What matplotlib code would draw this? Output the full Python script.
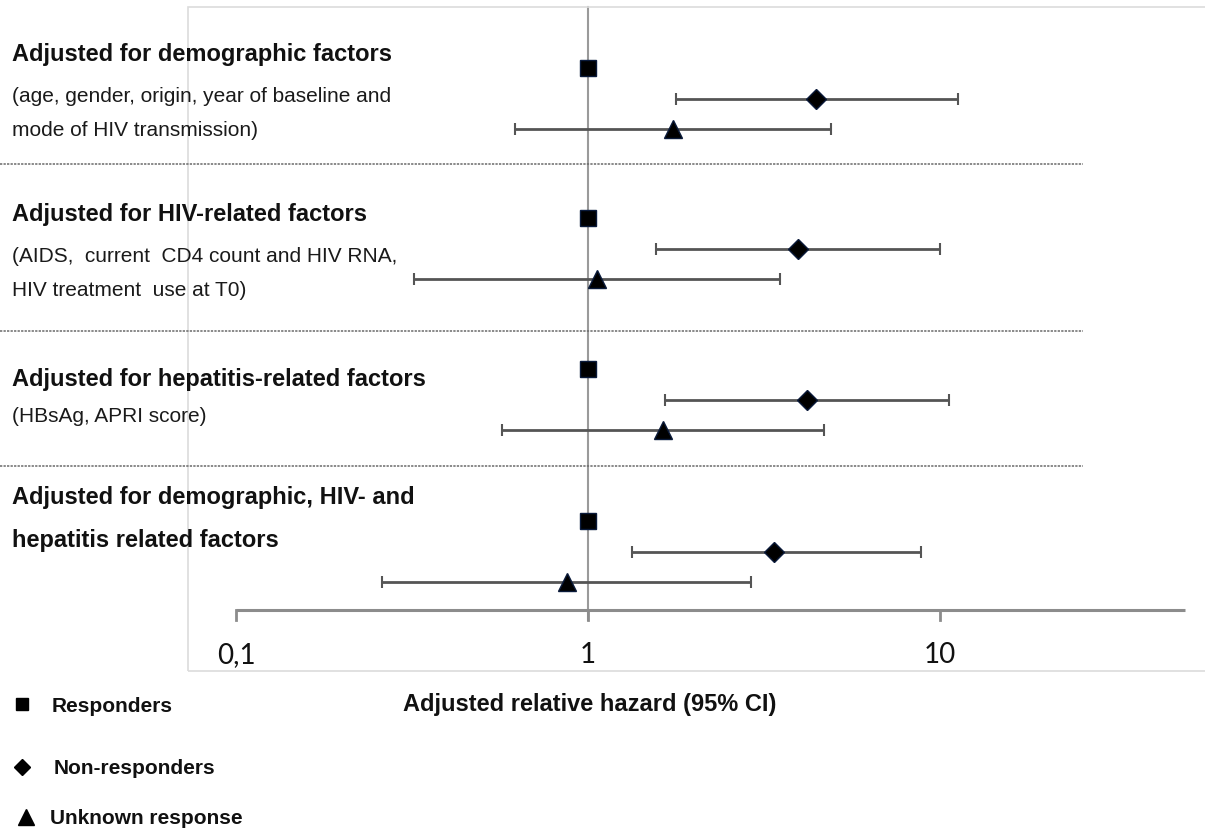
import matplotlib

matplotlib.use("Agg")

import matplotlib.pyplot as plt
from matplotlib.lines import Line2D
from matplotlib.patches import Rectangle

plt.rcParams["font.family"] = ["Liberation Sans", "DejaVu Sans"]

# adjustment models: bold header lines, then regular detail lines
headers = [
    ["Adjusted for demographic factors"],
    ["Adjusted for HIV-related factors"],
    ["Adjusted for hepatitis-related factors"],
    ["Adjusted for demographic, HIV- and", "hepatitis related factors"],
]
details = [
    ["(age, gender, origin, year of baseline and", "mode of HIV transmission)"],
    ["(AIDS,  current  CD4 count and HIV RNA,", "HIV treatment  use at T0)"],
    ["(HBsAg, APRI score)"],
    [],
]

# responders are the reference group
resp_hr = [1.0, 1.0, 1.0, 1.0]

nonresp_hr = [4.44, 3.95, 4.19, 3.38]
nonresp_lo = [1.78, 1.56, 1.66, 1.33]
nonresp_hi = [11.25, 10.0, 10.6, 8.83]

unknown_hr = [1.74, 1.06, 1.63, 0.87]
unknown_lo = [0.62, 0.32, 0.57, 0.26]
unknown_hi = [4.90, 3.51, 4.68, 2.90]

tick_values = [0.1, 1, 10]
tick_labels = ["0,1", "1", "10"]
axis_max = 49.7

W, H = 1205, 832
fig = plt.figure(figsize=(W / 100, H / 100), dpi=100)
ax = fig.add_axes([0, 0, 1, 1])
ax.set_xscale("log")
# one decade spans 352 px, x=1 sits at 588 px
ax.set_xlim(10 ** (-588 / 352), 10 ** ((W - 588) / 352))
ax.set_ylim(H, 0)
ax.axis("off")


def fy(py):
    return 1 - py / H


# light plot-area frame
fig.add_artist(Rectangle((188 / W, fy(671)), (W - 186) / W, (671 - 7) / H,
                         transform=fig.transFigure, fill=False,
                         edgecolor="#dcdcdc", linewidth=1.2))

axis_y = 610
row0 = [68, 218, 369, 521]
row_step = 30.5
sep_y = [164, 331, 466]

# reference line at 1
ax.plot([1, 1], [7, axis_y + 10], color="#9a9a9a", lw=1.5, zorder=1)

# horizontal axis with downward ticks
ax.plot([tick_values[0], axis_max], [axis_y, axis_y], color="#8c8c8c", lw=2.2,
        solid_capstyle="butt", zorder=1)
for v, lab in zip(tick_values, tick_labels):
    ax.plot([v, v], [axis_y, axis_y + 10], color="#8c8c8c", lw=2, zorder=1)
    ax.text(v, 655, lab, ha="center", va="center", fontsize=20,
            family=["Lato", "DejaVu Sans"], color="#111111")

fig.text(590 / W, fy(704), "Adjusted relative hazard (95% CI)",
         ha="center", va="center", fontsize=17, weight="bold", color="#111111")

# section separators
for y in sep_y:
    fig.add_artist(Line2D([0, 1083 / W], [fy(y), fy(y)],
                          transform=fig.transFigure, color="#6a6a6a", lw=1.1,
                          linestyle=(0, (1.5, 0.8))))

err_kw = dict(fmt="none", ecolor="#555555", elinewidth=2, capsize=4,
              capthick=1.5, zorder=2)

for i in range(len(headers)):
    y_r = row0[i]
    y_n = y_r + row_step
    y_u = y_r + 2 * row_step

    ax.errorbar([nonresp_hr[i]], [y_n],
                xerr=[[nonresp_hr[i] - nonresp_lo[i]], [nonresp_hi[i] - nonresp_hr[i]]],
                **err_kw)
    ax.errorbar([unknown_hr[i]], [y_u],
                xerr=[[unknown_hr[i] - unknown_lo[i]], [unknown_hi[i] - unknown_hr[i]]],
                **err_kw)
    ax.plot(resp_hr[i], y_r, marker="s", ms=11, color="black",
            mec="#0a1a3a", zorder=3)
    ax.plot(nonresp_hr[i], y_n, marker="D", ms=10, color="black",
            mec="#0a1a3a", zorder=3)
    ax.plot(unknown_hr[i], y_u, marker="^", ms=13, color="black",
            mec="#0a1a3a", zorder=3)

# left-hand labels
header_y = [[55], [215], [380], [497, 541]]
detail_y = [[96, 131], [257, 291], [416], []]
for heads, hys, dets, dys in zip(headers, header_y, details, detail_y):
    for line, hy in zip(heads, hys):
        fig.text(12 / W, fy(hy), line, ha="left", va="center", fontsize=17,
                 weight="bold", color="#111111")
    for line, dy in zip(dets, dys):
        fig.text(12 / W, fy(dy), line, ha="left", va="center",
                 fontsize=15, color="#1a1a1a")

# legend
legend_items = [("s", 9, "Responders", 704, 22, 52),
                ("D", 8, "Non-responders", 767, 22, 54),
                ("^", 12, "Unknown response", 817, 26, 50)]
for mk, ms, lab, y, mx, tx in legend_items:
    fig.add_artist(Line2D([mx / W], [fy(y)], transform=fig.transFigure,
                          marker=mk, ms=ms, color="black", linestyle="none"))
    fig.text(tx / W, fy(y + 2), lab, ha="left", va="center",
             fontsize=15, weight="bold", color="#111111")

fig.savefig("out.png", dpi=100)
plt.close(fig)
